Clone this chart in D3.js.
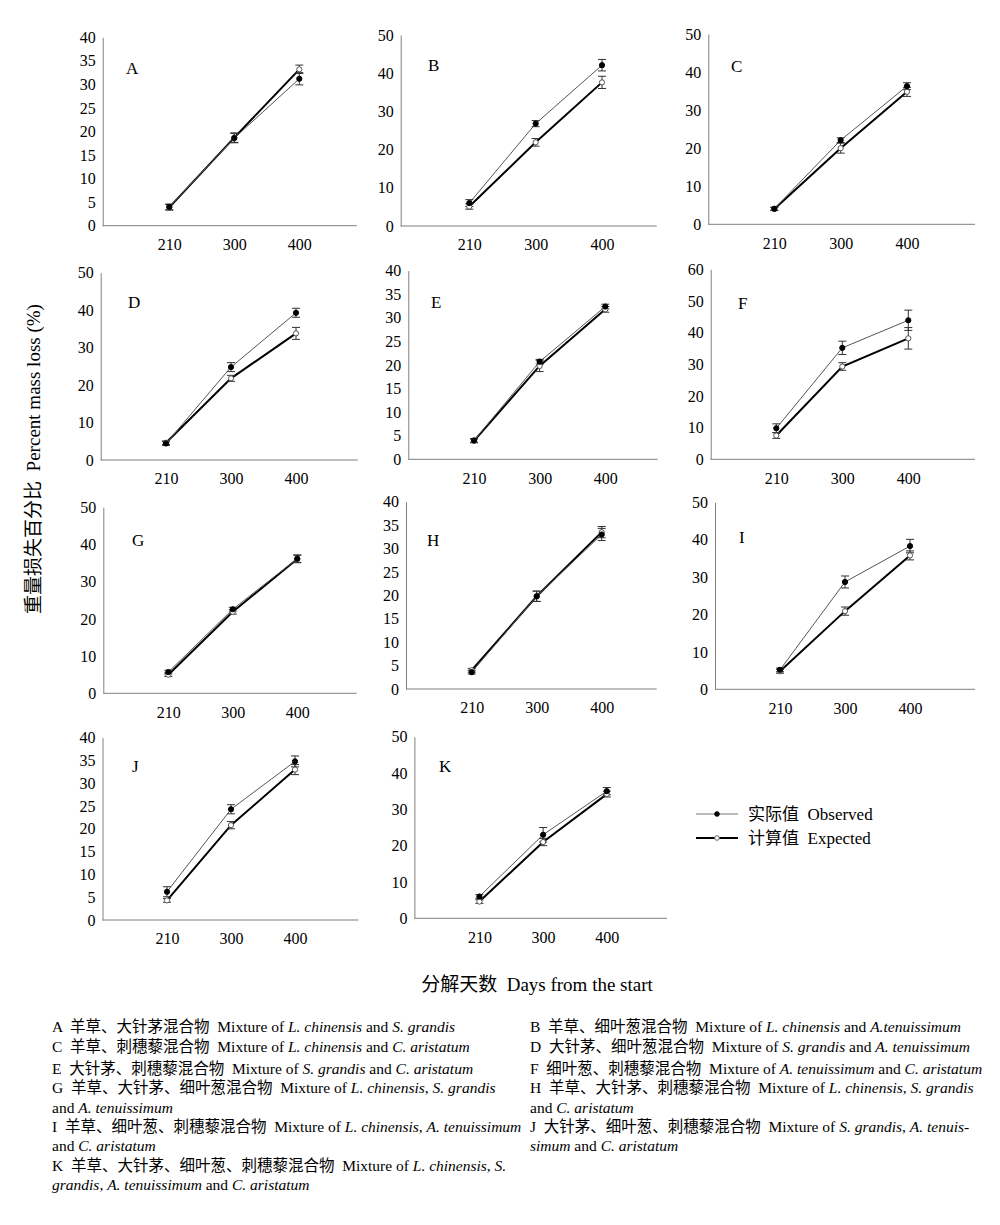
<!DOCTYPE html>
<html><head><meta charset="utf-8">
<script src="https://cdn.jsdelivr.net/npm/d3@7"></script>
<style>
body{margin:0;background:#fff;}
svg text{fill:#000;}
</style>
</head><body>
<svg id="chart" width="1000" height="1225"></svg>
<script>
// ---------- data ----------
const days = ["210", "300", "400"];
const panelLabels = ["A","B","C","D","E","F","G","H","I","J","K"];
const yMax  = [40, 50, 50, 50, 40, 60, 50, 40, 50, 40, 50];
const yStep = [5, 10, 10, 10, 5, 10, 10, 5, 10, 5, 10];
const observed = [
  [4.0, 18.6, 31.2], [6.0, 26.8, 42.1], [4.1, 22.1, 36.3], [4.4, 24.8, 39.3],
  [4.0, 20.7, 32.4], [9.8, 35.2, 43.9], [5.7, 22.6, 36.2], [3.6, 19.8, 33.0],
  [5.2, 28.7, 38.3], [6.2, 24.3, 34.8], [6.0, 23.0, 35.0]
];
const observedErr = [
  [0.6, 1.0, 1.3], [0.9, 0.8, 1.5], [0.4, 0.6, 0.9], [0.5, 1.2, 1.2],
  [0.4, 0.5, 0.5], [1.4, 2.1, 3.2], [0.5, 0.5, 1.0], [0.4, 1.1, 1.3],
  [0.5, 1.6, 1.8], [1.1, 1.0, 1.2], [0.5, 2.0, 1.0]
];
const expected = [
  [3.9, 18.7, 33.2], [5.1, 21.9, 37.6], [4.0, 20.0, 34.8], [4.6, 21.8, 33.8],
  [3.9, 19.8, 31.8], [7.5, 29.3, 38.2], [5.0, 21.9, 36.1], [4.0, 19.8, 33.5],
  [4.8, 20.9, 35.8], [4.3, 20.8, 33.0], [4.6, 21.0, 34.2]
];
const expectedErr = [
  [0.6, 1.0, 0.9], [0.7, 1.0, 1.6], [0.4, 1.3, 1.2], [0.5, 0.8, 1.6],
  [0.4, 1.2, 0.6], [0.9, 1.2, 3.4], [0.5, 0.6, 1.0], [0.4, 1.1, 1.2],
  [0.5, 1.1, 1.2], [0.4, 0.8, 1.1], [0.5, 1.0, 0.8]
];
const legendCn = ["实际值", "计算值"];
const legendEn = ["Observed", "Expected"];
const yTitleCn = "重量损失百分比", yTitleEn = "Percent mass loss (%)";
const xTitleCn = "分解天数", xTitleEn = "Days from the start";
// caption segments: [text, italic]
const captionLeft = [
  [["A  羊草、大针茅混合物  Mixture of ",0],["L. chinensis",1],[" and ",0],["S. grandis",1]],
  [["C  羊草、刺穗藜混合物  Mixture of ",0],["L. chinensis",1],[" and ",0],["C. aristatum",1]],
  [["E  大针茅、刺穗藜混合物  Mixture of ",0],["S. grandis",1],[" and ",0],["C. aristatum",1]],
  [["G  羊草、大针茅、细叶葱混合物  Mixture of ",0],["L. chinensis",1],[", ",0],["S. grandis",1]],
  [["and ",0],["A. tenuissimum",1]],
  [["I  羊草、细叶葱、刺穗藜混合物  Mixture of ",0],["L. chinensis",1],[", ",0],["A. tenuissimum",1]],
  [["and ",0],["C. aristatum",1]],
  [["K  羊草、大针茅、细叶葱、刺穗藜混合物  Mixture of ",0],["L. chinensis",1],[", ",0],["S.",1]],
  [["grandis",1],[", ",0],["A. tenuissimum",1],[" and ",0],["C. aristatum",1]]
];
const captionRight = [
  [["B  羊草、细叶葱混合物  Mixture of ",0],["L. chinensis",1],[" and ",0],["A.tenuissimum",1]],
  [["D  大针茅、细叶葱混合物  Mixture of ",0],["S. grandis",1],[" and ",0],["A. tenuissimum",1]],
  [["F  细叶葱、刺穗藜混合物  Mixture of ",0],["A. tenuissimum",1],[" and ",0],["C. aristatum",1]],
  [["H  羊草、大针茅、刺穗藜混合物  Mixture of ",0],["L. chinensis",1],[", ",0],["S. grandis",1]],
  [["and ",0],["C. aristatum",1]],
  [["J  大针茅、细叶葱、刺穗藜混合物  Mixture of ",0],["S. grandis",1],[", ",0],["A. tenuis-",1]],
  [["simum",1],[" and ",0],["C. aristatum",1]]
];

// ---------- layout ----------
const layout = [
  {ax:102.7,end:356.7,y0:225.7,yTop:37.3,x0:169.3,x1:299.3,lx:126,ly:74},
  {ax:400.7,end:656.7,y0:226,yTop:35,x0:469.3,x1:602,lx:428,ly:71},
  {ax:708.3,end:975,y0:224.3,yTop:34,x0:774.3,x1:907,lx:731,ly:72},
  {ax:100.7,end:357.7,y0:460,yTop:272.7,x0:166,x1:296,lx:128,ly:308},
  {ax:408.3,end:657.7,y0:459.3,yTop:270.7,x0:474,x1:605.3,lx:431,ly:308},
  {ax:710.7,end:975,y0:459.3,yTop:269.3,x0:776.3,x1:908.3,lx:738,ly:309},
  {ax:103.3,end:356.7,y0:693.3,yTop:507.3,x0:168.3,x1:297.3,lx:132,ly:546},
  {ax:406,end:656.7,y0:689,yTop:501.7,x0:471.7,x1:601.7,lx:427,ly:546},
  {ax:715,end:975,y0:689.3,yTop:502.3,x0:780,x1:910,lx:739,ly:543},
  {ax:102.5,end:358.4,y0:920,yTop:737.7,x0:167,x1:295,lx:132,ly:772},
  {ax:414.4,end:667,y0:918.3,yTop:736.7,x0:479.4,x1:606.8,lx:439,ly:772}
];

const svg = d3.select("#chart");
const serif = "'Liberation Serif','Times New Roman',serif";
const cjkFont = "'Noto Sans CJK SC',sans-serif";
const mixed = "'Liberation Serif','Noto Sans CJK SC',serif";

panelLabels.forEach((lab, i) => {
  const L = layout[i];
  const g = svg.append("g");
  const x = d3.scalePoint().domain(days).range([L.x0, L.x1]);
  const y = d3.scaleLinear().domain([0, yMax[i]]).range([L.y0, L.yTop]);

  const yAxis = d3.axisLeft(y).tickValues(d3.range(0, yMax[i] + 0.001, yStep[i]))
    .tickSize(0).tickPadding(7).tickFormat(d3.format("d"));
  const gy = g.append("g").attr("transform", `translate(${L.ax},0)`).call(yAxis);
  gy.select(".domain").attr("stroke", "#808080").attr("stroke-width", 1);
  gy.selectAll("text").attr("font-family", serif).attr("font-size", 16).attr("fill", "#000");

  const xAxis = d3.axisBottom(x).tickSize(0).tickPadding(13);
  const gx = g.append("g").attr("transform", `translate(0,${L.y0})`).call(xAxis);
  gx.select(".domain").remove();
  gx.selectAll("text").attr("font-family", serif).attr("font-size", 16).attr("fill", "#000");
  g.append("line").attr("x1", L.ax).attr("x2", L.end).attr("y1", L.y0).attr("y2", L.y0)
    .attr("stroke", "#808080").attr("stroke-width", 1);

  g.append("text").attr("x", L.lx).attr("y", L.ly).text(lab)
    .attr("font-family", serif).attr("font-size", 17);

  const line = d3.line().x((d, k) => x(days[k])).y(d => y(d));

  const series = [
    {vals: expected[i], err: expectedErr[i], stroke: "#000", sw: 2, fill: "#fff", mstroke: "#555"},
    {vals: observed[i], err: observedErr[i], stroke: "#555", sw: 1, fill: "#000", mstroke: "#000"}
  ];
  series.forEach(s => {
    g.append("path").datum(s.vals).attr("d", line).attr("fill", "none")
      .attr("stroke", s.stroke).attr("stroke-width", s.sw);
  });
  series.forEach(s => {
    s.vals.forEach((v, k) => {
      const cx = x(days[k]);
      const ylo = y(v - s.err[k]), yhi = y(v + s.err[k]);
      g.append("line").attr("x1", cx).attr("x2", cx).attr("y1", ylo).attr("y2", yhi)
        .attr("stroke", "#333").attr("stroke-width", 1);
      [ylo, yhi].forEach(yy => g.append("line").attr("x1", cx - 4).attr("x2", cx + 4)
        .attr("y1", yy).attr("y2", yy).attr("stroke", "#333").attr("stroke-width", 1));
    });
  });
  series.forEach(s => {
    g.selectAll(null).data(s.vals).enter().append("circle")
      .attr("cx", (d, k) => x(days[k])).attr("cy", d => y(d)).attr("r", 2.6)
      .attr("fill", s.fill).attr("stroke", s.mstroke).attr("stroke-width", 1);
  });
});

function mixedText(sel, cn, en, size) {
  sel.append("tspan").text(cn).attr("font-family", cjkFont).attr("font-size", size);
  sel.append("tspan").text("\u00a0\u00a0" + en).attr("font-family", serif).attr("font-size", size);
}

// legend
const leg = svg.append("g");
[[814, "#777", 1, "#000", "#000"], [838, "#000", 2, "#fff", "#666"]].forEach((st, k) => {
  leg.append("line").attr("x1", 696).attr("x2", 738).attr("y1", st[0]).attr("y2", st[0])
    .attr("stroke", st[1]).attr("stroke-width", st[2]);
  leg.append("circle").attr("cx", 717).attr("cy", st[0]).attr("r", 2.3)
    .attr("fill", st[3]).attr("stroke", st[4]).attr("stroke-width", 1);
  const t = leg.append("text").attr("x", 748).attr("y", st[0] + 6);
  mixedText(t, legendCn[k], legendEn[k], 17);
});

// axis titles
const yt = svg.append("text").attr("transform", "translate(40,459) rotate(-90)")
  .attr("text-anchor", "middle");
mixedText(yt, yTitleCn, yTitleEn, 19);
const xt = svg.append("text").attr("x", 537).attr("y", 991).attr("text-anchor", "middle");
mixedText(xt, xTitleCn, xTitleEn, 19);

// caption
const capY = [1032, 1052, 1074, 1093, 1113, 1132, 1151, 1171, 1190];
function drawCaption(lines, x0) {
  lines.forEach((segs, r) => {
    const t = svg.append("text").attr("x", x0).attr("y", capY[r])
      .attr("font-family", mixed).attr("font-size", 15.5).style("white-space", "pre");
    segs.forEach(sg => t.append("tspan").text(sg[0]).attr("font-style", sg[1] ? "italic" : "normal"));
  });
}
drawCaption(captionLeft, 52);
drawCaption(captionRight, 530);
</script>
</body></html>
